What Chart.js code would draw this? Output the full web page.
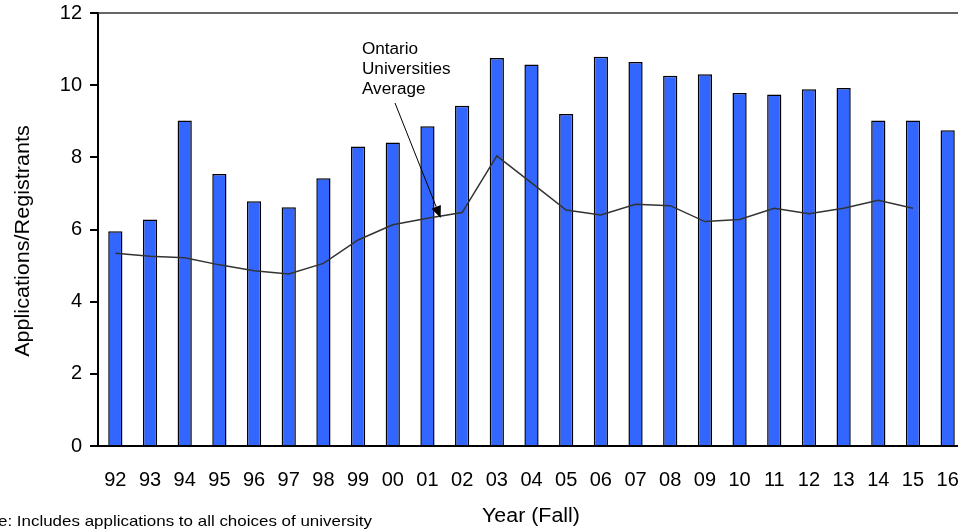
<!DOCTYPE html>
<html>
<head>
<meta charset="utf-8">
<script src="https://cdn.jsdelivr.net/npm/chart.js@4.4.1/dist/chart.umd.min.js"></script>
<style>
    html, body { margin: 0; padding: 0; background: #fff; overflow: hidden; }
</style>
</head>
<body>
<canvas id="ratioChart" width="966" height="531"></canvas>
<script>
const years = ["92", "93", "94", "95", "96", "97", "98", "99", "00", "01", "02", "03",
    "04", "05", "06", "07", "08", "09", "10", "11", "12", "13", "14", "15", "16"];
const ratios = [5.95, 6.28, 9.02, 7.54, 6.78, 6.62, 7.42, 8.30, 8.41, 8.86, 9.43, 10.75,
    10.57, 9.20, 10.79, 10.64, 10.26, 10.30, 9.78, 9.74, 9.89, 9.92, 9.02, 9.02, 8.75];
const ontarioAvg = [5.34, 5.26, 5.22, 5.02, 4.86, 4.77, 5.06, 5.71, 6.13, 6.31, 6.47, 8.04,
    7.29, 6.54, 6.40, 6.70, 6.66, 6.22, 6.28, 6.59, 6.44, 6.59, 6.81, 6.59, null];
const yMin = 0;
const yMax = 12;
const yStep = 2;

const FONT = "'Liberation Sans', Arial, sans-serif";

// text drawn a bit wider, as in the original
function wideText(ctx, text, x, y, sx) {
    ctx.save();
    ctx.translate(x, y);
    ctx.scale(sx, 1);
    ctx.fillText(text, 0, 0);
    ctx.restore();
}

// extra text, top border and the arrow note
const extrasPlugin = {
    id: "extras",
    afterDraw(chart) {
        const ctx = chart.ctx;
        const area = chart.chartArea;
        const x = chart.scales.x;
        const y = chart.scales.y;
        ctx.save();

        // top line at y = 12
        ctx.strokeStyle = "#333";
        ctx.lineWidth = 1.5;
        ctx.beginPath();
        ctx.moveTo(area.left, y.getPixelForValue(yMax));
        ctx.lineTo(area.right, y.getPixelForValue(yMax));
        ctx.stroke();

        ctx.fillStyle = "#000";

        // y title
        ctx.save();
        ctx.translate(23, 241);
        ctx.rotate(-Math.PI / 2);
        ctx.font = "20px " + FONT;
        ctx.textAlign = "center";
        ctx.textBaseline = "middle";
        wideText(ctx, "Applications/Registrants", 0, 0, 1.08);
        ctx.restore();

        // x title
        ctx.font = "20px " + FONT;
        ctx.textAlign = "center";
        ctx.textBaseline = "alphabetic";
        wideText(ctx, "Year (Fall)", 531, 522, 1.07);

        // footnote, cut off at the left like the original
        ctx.font = "15px " + FONT;
        ctx.textAlign = "right";
        wideText(ctx, "Note: Includes applications to all choices of university", 372, 526, 1.13);

        // note
        ctx.font = "16px " + FONT;
        ctx.textAlign = "left";
        wideText(ctx, "Ontario", 362, 54, 1.07);
        wideText(ctx, "Universities", 362, 74, 1.07);
        wideText(ctx, "Average", 362, 94, 1.07);

        const sx = 395, sy = 103;
        const tx = x.getPixelForValue(9) + 0.38 * (x.getPixelForValue(10) - x.getPixelForValue(9));
        const ty = y.getPixelForValue(6.32);
        const ang = Math.atan2(ty - sy, tx - sx);
        const head = 12, half = 5;
        ctx.strokeStyle = "#000";
        ctx.lineWidth = 1;
        ctx.beginPath();
        ctx.moveTo(sx, sy);
        ctx.lineTo(tx - head * Math.cos(ang), ty - head * Math.sin(ang));
        ctx.stroke();
        ctx.beginPath();
        ctx.moveTo(tx, ty);
        ctx.lineTo(tx - head * Math.cos(ang) + half * Math.sin(ang), ty - head * Math.sin(ang) - half * Math.cos(ang));
        ctx.lineTo(tx - head * Math.cos(ang) - half * Math.sin(ang), ty - head * Math.sin(ang) + half * Math.cos(ang));
        ctx.closePath();
        ctx.fill();

        ctx.restore();
    }
};

new Chart(document.getElementById("ratioChart"), {
    type: "bar",
    data: {
        labels: years,
        datasets: [{
            type: "line",
            label: "Ontario Universities Average",
            data: ontarioAvg,
            borderColor: "#333",
            borderWidth: 1.5,
            pointRadius: 0,
            tension: 0,
            fill: false,
            order: 0
        }, {
            label: "Applications/Registrants",
            data: ratios,
            backgroundColor: "#3366ff",
            borderColor: "#000",
            borderWidth: 1.5,
            barPercentage: 0.41,
            categoryPercentage: 1,
            order: 1
        }]
    },
    options: {
        responsive: false,
        animation: false,
        layout: {
            padding: { top: 13, right: 1, left: 0, bottom: 0 }
        },
        plugins: {
            legend: { display: false },
            tooltip: { enabled: false }
        },
        scales: {
            x: {
                afterFit(scale) {
                    scale.height = 85;
                    scale.paddingLeft = 0;
                    scale.paddingRight = 0;
                },
                grid: { display: true, drawOnChartArea: false, drawTicks: false },
                border: { display: true, color: "#000", width: 2 },
                ticks: {
                    color: "#000",
                    padding: 22,
                    maxRotation: 0,
                    autoSkip: false,
                    font: { family: FONT, size: 20 }
                }
            },
            y: {
                min: yMin,
                max: yMax,
                afterFit(scale) {
                    scale.width = 98;
                    scale.paddingTop = 0;
                    scale.paddingBottom = 0;
                },
                grid: { drawOnChartArea: false, drawTicks: true, tickLength: 8, color: "#000", lineWidth: 2 },
                border: { display: true, color: "#000", width: 2 },
                ticks: {
                    stepSize: yStep,
                    color: "#000",
                    padding: 8,
                    font: { family: FONT, size: 20 }
                }
            }
        }
    },
    plugins: [extrasPlugin]
});
</script>
</body>
</html>
